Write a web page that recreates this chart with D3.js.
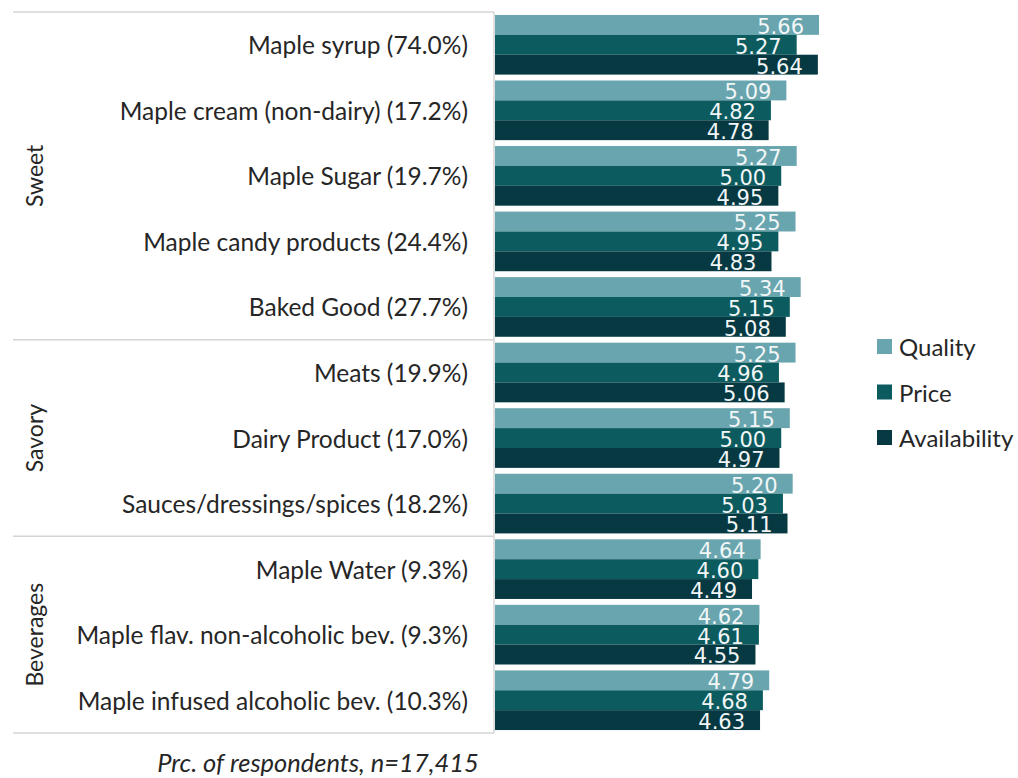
<!DOCTYPE html>
<html>
<head>
<meta charset="utf-8">
<script src="https://cdn.jsdelivr.net/npm/d3@7"></script>
<style>
  html, body { margin: 0; padding: 0; background: #fff; }
  svg { display: block; }
</style>
</head>
<body>
<svg id="chart" width="1018" height="778"></svg>
<script>
// Product categories (with share of respondents) and their groups
const categories = [
  "Maple syrup (74.0%)",
  "Maple cream (non-dairy) (17.2%)",
  "Maple Sugar (19.7%)",
  "Maple candy products (24.4%)",
  "Baked Good (27.7%)",
  "Meats (19.9%)",
  "Dairy Product (17.0%)",
  "Sauces/dressings/spices (18.2%)",
  "Maple Water (9.3%)",
  "Maple flav. non-alcoholic bev. (9.3%)",
  "Maple infused alcoholic bev. (10.3%)"
];
const groups = ["Sweet", "Savory", "Beverages"];
const groupSizes = [5, 3, 3];

// Mean ratings per attribute
const seriesNames = ["Quality", "Price", "Availability"];
const quality      = [5.66, 5.09, 5.27, 5.25, 5.34, 5.25, 5.15, 5.20, 4.64, 4.62, 4.79];
const price        = [5.27, 4.82, 5.00, 4.95, 5.15, 4.96, 5.00, 5.03, 4.60, 4.61, 4.68];
const availability = [5.64, 4.78, 4.95, 4.83, 5.08, 5.06, 4.97, 5.11, 4.49, 4.55, 4.63];
const footnote = "Prc. of respondents, n=17,415";

const seriesValues = [quality, price, availability];
const colors = ["#68a5ae", "#0c5b5e", "#063942"];

const svg = d3.select("#chart");
const labelFont = "Lato, 'Open Sans', sans-serif";
const valueFont = "'DejaVu Sans', sans-serif";

const x = d3.scaleLinear().domain([0, 5.66]).range([495, 819]);
const y = d3.scaleBand().domain(categories).range([12, 733])
  .paddingInner(0.09).paddingOuter(0.045);
const ySub = d3.scaleBand().domain(seriesNames).range([0, y.bandwidth()]);
const color = d3.scaleOrdinal().domain(seriesNames).range(colors);

const rows = categories.map((c, i) => ({
  category: c,
  values: seriesNames.map((s, k) => ({ series: s, value: seriesValues[k][i] }))
}));

// Group separators (horizontal rules spanning the label area)
const step = y.step();
let cum = 0;
const boundaries = [0];
groupSizes.forEach(n => { cum += n; boundaries.push(cum); });
svg.append("g").selectAll("line").data(boundaries).join("line")
  .attr("x1", 13).attr("x2", 494)
  .attr("y1", d => 12 + d * step).attr("y2", d => 12 + d * step)
  .attr("stroke", "#d4d4d4").attr("stroke-width", 1.5);

// Vertical axis line
svg.append("line")
  .attr("x1", 494).attr("x2", 494).attr("y1", 12).attr("y2", 733)
  .attr("stroke", "#d4d4d4").attr("stroke-width", 1.5);

// Group labels, rotated
svg.append("g").selectAll("text").data(groups).join("text")
  .attr("transform", (g, i) => {
    const cy = 12 + (boundaries[i] + boundaries[i + 1]) / 2 * step;
    return `translate(34,${cy}) rotate(-90)`;
  })
  .attr("text-anchor", "middle")
  .attr("dominant-baseline", "central")
  .attr("font-family", labelFont).attr("font-size", 23)
  .attr("fill", "#262626")
  .text(d => d);

// Category labels
svg.append("g").selectAll("text").data(categories).join("text")
  .attr("x", 468)
  .attr("y", d => y(d) + y.bandwidth() / 2)
  .attr("text-anchor", "end")
  .attr("dominant-baseline", "central")
  .attr("font-family", labelFont).attr("font-size", 24.5)
  .attr("fill", "#262626")
  .text(d => d);

// Bars
const rowG = svg.append("g").selectAll("g").data(rows).join("g")
  .attr("transform", d => `translate(0,${y(d.category)})`);

rowG.selectAll("rect").data(d => d.values).join("rect")
  .attr("x", x(0))
  .attr("y", d => ySub(d.series))
  .attr("width", d => x(d.value) - x(0))
  .attr("height", ySub.bandwidth())
  .attr("fill", d => color(d.series));

// Value labels inside the bar ends
rowG.selectAll("text").data(d => d.values).join("text")
  .attr("x", d => x(d.value) - 15)
  .attr("y", d => ySub(d.series) + ySub.bandwidth() - 1)
  .attr("text-anchor", "end")
  .attr("font-family", valueFont).attr("font-size", 21)
  .attr("fill", "#f2f6f7")
  .text(d => d3.format(".2f")(d.value));

// Legend
const legend = svg.append("g").selectAll("g").data(seriesNames).join("g")
  .attr("transform", (d, i) => `translate(877,${339 + i * 45.5})`);
legend.append("rect")
  .attr("width", 15).attr("height", 15)
  .attr("fill", d => color(d));
legend.append("text")
  .attr("x", 22).attr("y", 7.5)
  .attr("dominant-baseline", "central")
  .attr("font-family", labelFont).attr("font-size", 24)
  .attr("fill", "#262626")
  .text(d => d);

// Footnote
svg.append("text")
  .attr("x", 318).attr("y", 772)
  .attr("text-anchor", "middle")
  .attr("font-family", labelFont).attr("font-size", 25.5)
  .attr("font-style", "italic")
  .attr("fill", "#262626")
  .text(footnote);
</script>
</body>
</html>
